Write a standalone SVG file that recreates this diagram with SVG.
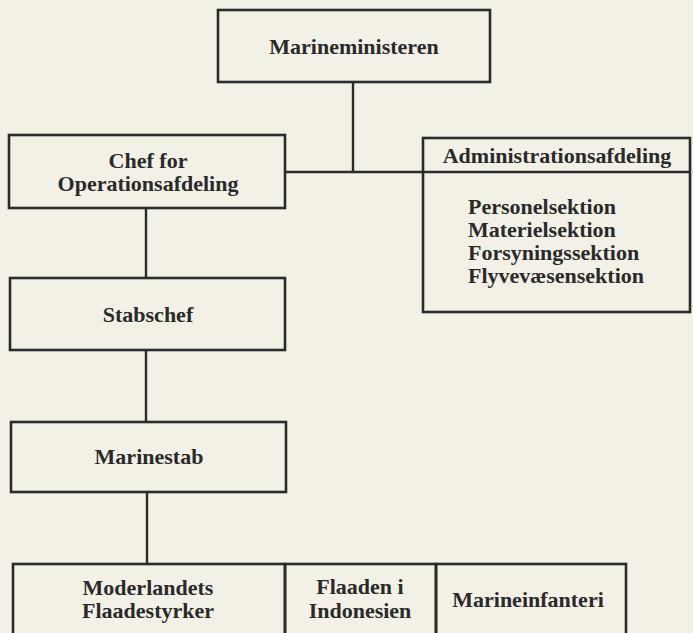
<svg xmlns="http://www.w3.org/2000/svg" width="693" height="633" viewBox="0 0 693 633">
  <style>
    .box { fill: none; stroke: #2b2b2b; stroke-width: 2.6; }
    .con { fill: none; stroke: #2b2b2b; stroke-width: 2.4; }
    text { font-family: "Liberation Serif", "DejaVu Serif", serif; font-weight: bold; font-size: 22px; fill: #2a2a2a; }
    .c { text-anchor: middle; }
  </style>
  <rect width="693" height="633" fill="#f3f1e5"/>
  <g id="connectors">
    <path class="con" d="M353 82 V172"/>
    <path class="con" d="M285 172 H423"/>
    <path class="con" d="M146 208 V278"/>
    <path class="con" d="M146 350 V422"/>
    <path class="con" d="M147 492 V564"/>
  </g>
  <g id="marineministeren">
    <rect class="box" x="218" y="10" width="272" height="72"/>
    <text class="c" x="354" y="54">Marineministeren</text>
  </g>
  <g id="chef-operation">
    <rect class="box" x="9" y="135" width="276" height="73"/>
    <text class="c" x="148" y="168">Chef for</text>
    <text class="c" x="148" y="191">Operationsafdeling</text>
  </g>
  <g id="administration">
    <rect class="box" x="423" y="138" width="267" height="174"/>
    <path class="box" d="M423 172 H690"/>
    <text class="c" x="557" y="163">Administrationsafdeling</text>
    <text x="468" y="214">Personelsektion</text>
    <text x="468" y="237">Materielsektion</text>
    <text x="468" y="260">Forsyningssektion</text>
    <text x="468" y="283">Flyvevæsensektion</text>
  </g>
  <g id="stabschef">
    <rect class="box" x="10" y="278" width="275" height="72"/>
    <text class="c" x="148" y="322">Stabschef</text>
  </g>
  <g id="marinestab">
    <rect class="box" x="11" y="422" width="275" height="70"/>
    <text class="c" x="149" y="464">Marinestab</text>
  </g>
  <g id="moderlandets">
    <rect class="box" x="13" y="564" width="272" height="80"/>
    <text class="c" x="148" y="595">Moderlandets</text>
    <text class="c" x="148" y="618">Flaadestyrker</text>
  </g>
  <g id="flaaden-indonesien">
    <rect class="box" x="285" y="564" width="151" height="80"/>
    <text class="c" x="360" y="594">Flaaden i</text>
    <text class="c" x="360" y="618">Indonesien</text>
  </g>
  <g id="marineinfanteri">
    <rect class="box" x="436" y="564" width="190" height="80"/>
    <text class="c" x="528" y="607">Marineinfanteri</text>
  </g>
</svg>
